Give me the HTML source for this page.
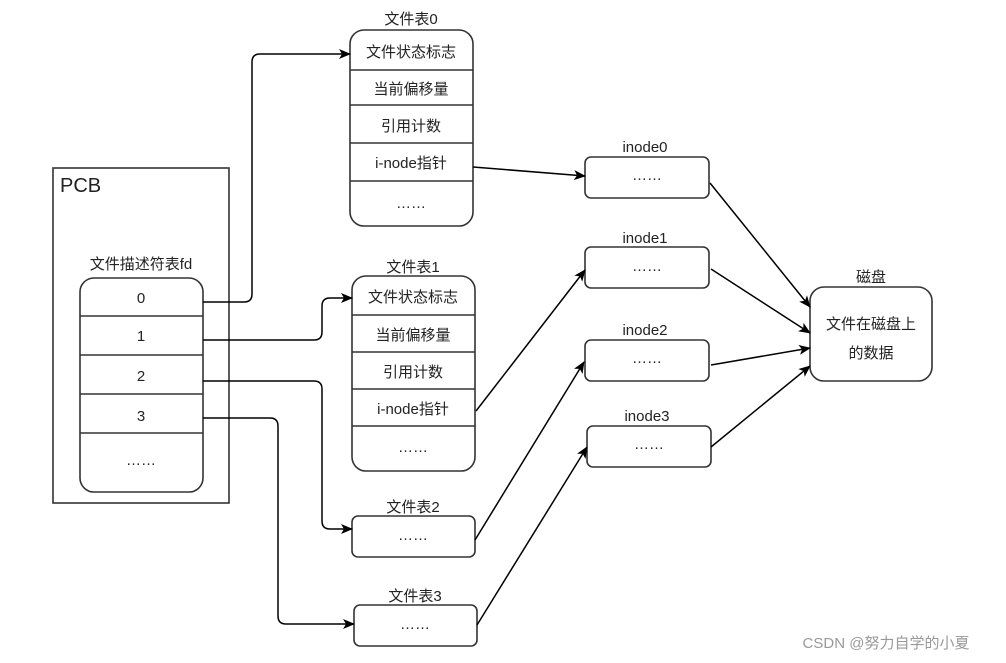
<!DOCTYPE html>
<html><head><meta charset="utf-8"><style>
html,body{margin:0;padding:0;background:#fff;width:1006px;height:663px;overflow:hidden}
svg text{font-family:"Liberation Sans","Noto Sans CJK SC",sans-serif;fill:#222}
</style></head><body>
<svg width="1006" height="663" viewBox="0 0 1006 663" xmlns="http://www.w3.org/2000/svg">
<defs><marker id="a" markerWidth="12" markerHeight="10" refX="11" refY="5" orient="auto" markerUnits="userSpaceOnUse"><path d="M0,0 L12,5 L0,10 L3,5 Z" fill="#000"/></marker></defs>
<g fill="none" stroke="#333" stroke-width="1.6">
<rect x="53" y="168" width="176" height="335"/>
<rect x="80" y="278" width="123" height="214" rx="14"/>
<path d="M80 316H203M80 355H203M80 394H203M80 433H203"/>
<rect x="350" y="30" width="123" height="196" rx="14"/>
<path d="M350 70H473M350 105H473M350 143H473M350 181H473"/>
<rect x="352" y="276" width="123" height="195" rx="14"/>
<path d="M352 315H475M352 352H475M352 389H475M352 426H475"/>
<rect x="352" y="516" width="123" height="41" rx="6"/>
<rect x="354" y="605" width="123" height="41" rx="6"/>
<rect x="585" y="157" width="124" height="41" rx="6"/>
<rect x="585" y="247" width="124" height="41" rx="6"/>
<rect x="585" y="340" width="124" height="41" rx="6"/>
<rect x="587" y="426" width="124" height="41" rx="6"/>
<rect x="810" y="287" width="122" height="94" rx="14"/>
</g>
<g fill="none" stroke="#000" stroke-width="1.5" marker-end="url(#a)">
<path d="M203 302H244Q252 302 252 294V62Q252 54 260 54H350"/>
<path d="M203 340H314Q322 340 322 332V306Q322 298 330 298H352"/>
<path d="M203 381H314Q322 381 322 389V521Q322 529 330 529H352"/>
<path d="M203 418H270Q278 418 278 426V616Q278 624 286 624H354"/>
<path d="M473 167L585 176"/>
<path d="M476 411L585 270"/>
<path d="M475 540L584 362"/>
<path d="M477 625L587 447"/>
<path d="M710 183L810 307"/>
<path d="M711 269L810 333"/>
<path d="M711 365L810 348"/>
<path d="M711 447L810 366"/>
</g>
<g font-size="15" text-anchor="middle">
<text x="60" y="192" text-anchor="start" font-size="20">PCB</text>
<text x="141" y="269">文件描述符表fd</text>
<text x="141" y="303">0</text><text x="141" y="341">1</text><text x="141" y="381">2</text><text x="141" y="421">3</text><text x="141" y="465">……</text>
<text x="411" y="24">文件表0</text>
<text x="411" y="57">文件状态标志</text><text x="411" y="94">当前偏移量</text><text x="411" y="131">引用计数</text><text x="411" y="168">i-node指针</text><text x="411" y="208">……</text>
<text x="413" y="272">文件表1</text>
<text x="413" y="302">文件状态标志</text><text x="413" y="340">当前偏移量</text><text x="413" y="377">引用计数</text><text x="413" y="414">i-node指针</text><text x="413" y="452">……</text>
<text x="413" y="512">文件表2</text><text x="413" y="540">……</text>
<text x="415" y="601">文件表3</text><text x="415" y="629">……</text>
<text x="645" y="152">inode0</text><text x="647" y="180">……</text>
<text x="645" y="243">inode1</text><text x="647" y="271">……</text>
<text x="645" y="335">inode2</text><text x="647" y="363">……</text>
<text x="647" y="421">inode3</text><text x="649" y="449">……</text>
<text x="871" y="282">磁盘</text>
<text x="871" y="329">文件在磁盘上</text><text x="871" y="358">的数据</text>
<text x="886" y="648" font-size="15" style="fill:#999">CSDN @努力自学的小夏</text>
</g>
</svg>
</body></html>
